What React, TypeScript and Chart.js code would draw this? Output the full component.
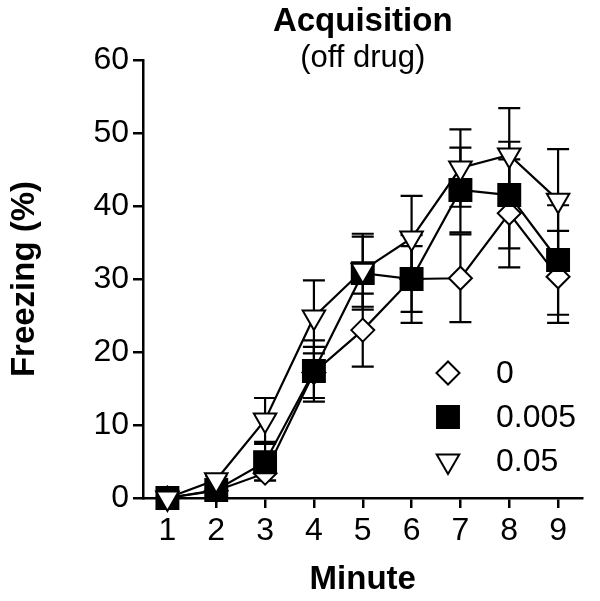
import React, { useEffect, useRef } from "react";
import { Chart, registerables } from "chart.js";
import { drawPoint } from "chart.js/helpers";

Chart.register(...registerables);

const minutes = [1, 2, 3, 4, 5, 6, 7, 8, 9];
const seriesLabels = ["0", "0.005", "0.05"];
const dose0 = [0, 1, 3.4, 17.2, 23, 30, 30.1, 39, 30.3];
const dose0Err = [0, 0, 1, 3.5, 5, 6, 6, 7.4, 6.3];
const dose005 = [0, 1.1, 4.9, 17.4, 30.8, 30, 42.2, 41.5, 32.6];
const dose005Err = [0, 0.5, 2.5, 4.2, 5, 4.5, 5.8, 7.3, 7.5];
const dose05 = [0, 2.5, 10.7, 24.8, 31.2, 35.6, 45.2, 47, 40.8];
const dose05Err = [0, 0.5, 3, 5, 5, 5.8, 5.3, 6.4, 7];
const yTicks = [0, 10, 20, 30, 40, 50, 60];

const FONT = "'Liberation Sans', Arial, Helvetica, sans-serif";

const errorBarPlugin = {
  id: "errorBars",
  beforeDatasetsDraw(chart: any) {
    const { ctx, scales } = chart;
    const x = scales.x;
    const y = scales.y;
    ctx.save();
    ctx.strokeStyle = "#000";
    ctx.lineWidth = 2.2;
    chart.data.datasets.forEach((ds: any) => {
      const errs: number[] = ds.errors || [];
      ds.data.forEach((pt: any, i: number) => {
        const e = errs[i];
        if (!e) return;
        const px = x.getPixelForValue(pt.x);
        const top = y.getPixelForValue(pt.y + e);
        const bot = y.getPixelForValue(Math.max(0, pt.y - e));
        ctx.beginPath();
        ctx.moveTo(px, top);
        ctx.lineTo(px, bot);
        ctx.moveTo(px - 11, top);
        ctx.lineTo(px + 11, top);
        ctx.moveTo(px - 11, bot);
        ctx.lineTo(px + 11, bot);
        ctx.stroke();
      });
    });
    ctx.restore();
  },
};

const legendPlugin = {
  id: "insideLegend",
  afterDraw(chart: any) {
    const { ctx } = chart;
    const rows = [373, 417, 461];
    ctx.save();
    chart.data.datasets.forEach((ds: any, i: number) => {
      const yy = rows[i];
      ctx.fillStyle = ds.pointBackgroundColor;
      ctx.strokeStyle = ds.pointBorderColor;
      ctx.lineWidth = ds.pointBorderWidth;
      drawPoint(
        ctx,
        {
          pointStyle: ds.pointStyle,
          rotation: ds.pointRotation || 0,
          radius: ds.pointRadius,
          borderWidth: ds.pointBorderWidth,
        },
        448,
        yy
      );
      ctx.fillStyle = "#000";
      ctx.font = `32px ${FONT}`;
      ctx.textAlign = "left";
      ctx.textBaseline = "middle";
      ctx.fillText(ds.label, 496, yy + 1);
    });
    ctx.restore();
  },
};

function toPoints(vals: number[]) {
  return minutes.map((m, i) => ({ x: m, y: vals[i] }));
}

export default function App() {
  const ref = useRef<HTMLCanvasElement | null>(null);

  useEffect(() => {
    if (!ref.current) return;
    const chart = new Chart(ref.current, {
      type: "line",
      data: {
        datasets: [
          {
            label: seriesLabels[0],
            data: toPoints(dose0),
            errors: dose0Err,
            borderColor: "#000",
            borderWidth: 2.2,
            pointStyle: "rectRot",
            pointRadius: 11.5,
            pointBackgroundColor: "#fff",
            pointBorderColor: "#000",
            pointBorderWidth: 2,
            tension: 0,
            clip: false,
            order: 3,
          } as any,
          {
            label: seriesLabels[1],
            data: toPoints(dose005),
            errors: dose005Err,
            borderColor: "#000",
            borderWidth: 2.2,
            pointStyle: "rect",
            pointRadius: 15.5,
            pointBackgroundColor: "#000",
            pointBorderColor: "#000",
            pointBorderWidth: 2,
            tension: 0,
            clip: false,
            order: 2,
          } as any,
          {
            label: seriesLabels[2],
            data: toPoints(dose05),
            errors: dose05Err,
            borderColor: "#000",
            borderWidth: 2.2,
            pointStyle: "triangle",
            pointRotation: 180,
            pointRadius: 13,
            pointBackgroundColor: "#fff",
            pointBorderColor: "#000",
            pointBorderWidth: 2,
            tension: 0,
            clip: false,
            order: 1,
          } as any,
        ],
      },
      options: {
        responsive: false,
        animation: false,
        devicePixelRatio: 1,
        layout: { padding: { top: 5, left: 0, right: 17, bottom: 0 } },
        plugins: {
          legend: { display: false },
          tooltip: { enabled: false },
          title: {
            display: true,
            text: "Acquisition",
            fullSize: false,
            color: "#000",
            font: { family: FONT, size: 33, weight: "bold", lineHeight: 1 },
            padding: { top: 0, bottom: 0 },
          },
          subtitle: {
            display: true,
            text: "(off drug)",
            fullSize: false,
            color: "#000",
            font: { family: FONT, size: 31, weight: "normal", lineHeight: 1 },
            padding: { top: 5, bottom: -14 },
          },
        },
        scales: {
          x: {
            type: "linear",
            min: 0.5,
            max: 9.5,
            afterBuildTicks: (scale: any) => {
              scale.ticks = minutes.map((v) => ({ value: v }));
            },
            afterFit: (scale: any) => {
              scale.height = 103;
            },
            grid: {
              drawOnChartArea: false,
              drawTicks: true,
              tickLength: 10,
              color: "#000",
              lineWidth: 2.5,
            },
            border: { display: true, color: "#000", width: 2.5 },
            ticks: {
              color: "#000",
              font: { family: FONT, size: 32 },
              padding: 4,
              maxRotation: 0,
              autoSkip: false,
            },
            title: {
              display: true,
              text: "Minute",
              color: "#000",
              font: { family: FONT, size: 33, weight: "bold", lineHeight: 1.2 },
              padding: { top: 0, bottom: 1 },
            },
          },
          y: {
            min: 0,
            max: 60,
            afterBuildTicks: (scale: any) => {
              scale.ticks = yTicks.map((v) => ({ value: v }));
            },
            afterFit: (scale: any) => {
              scale.width = 143;
            },
            grid: {
              drawOnChartArea: false,
              drawTicks: true,
              tickLength: 10,
              color: "#000",
              lineWidth: 2.5,
            },
            border: { display: true, color: "#000", width: 2.5 },
            ticks: {
              color: "#000",
              font: { family: FONT, size: 32 },
              padding: 4,
            },
            title: {
              display: true,
              text: "Freezing (%)",
              color: "#000",
              font: { family: FONT, size: 33, weight: "bold", lineHeight: 1.2 },
              padding: { top: 5, bottom: 0 },
            },
          },
        },
      } as any,
      plugins: [errorBarPlugin, legendPlugin],
    });
    return () => chart.destroy();
  }, []);

  return (
    <div style={{ position: "absolute", left: 0, top: 0, width: 600, height: 601, background: "#fff" }}>
      <canvas ref={ref} width={600} height={601} style={{ width: 600, height: 601, display: "block" }} />
    </div>
  );
}
